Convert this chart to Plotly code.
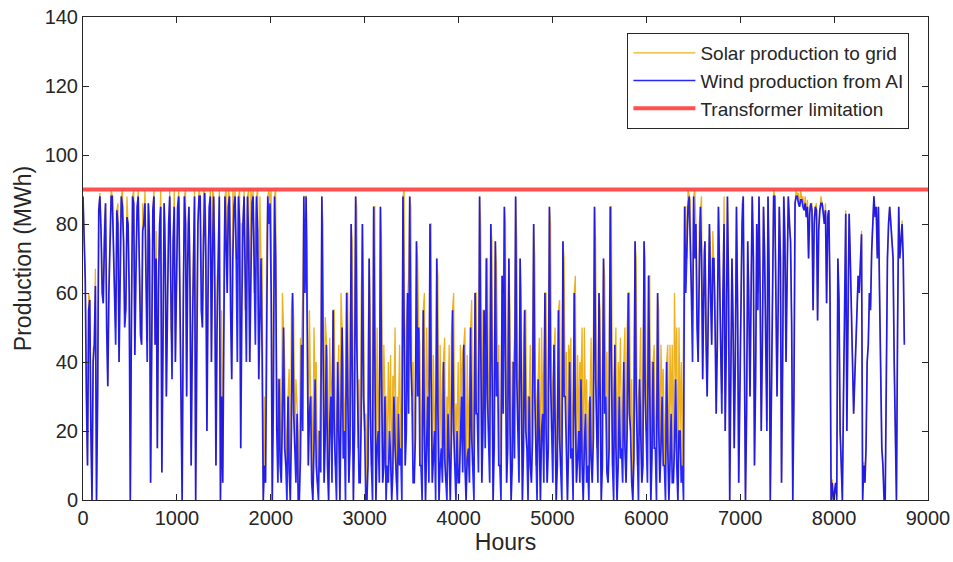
import numpy as np
import plotly.graph_objects as go

# Wind production, two readings per day (00:00 and 12:00)
wind = [
    88, 70, 64, 30, 10, 55, 58, 20, 0, 40, 45, 62, 0, 30, 84, 88, 78, 60, 57, 75,
    86, 50, 33, 60, 80, 88, 88, 70, 62, 45, 84, 80, 40, 72, 88, 85, 75, 50, 55, 82,
    80, 60, 0, 55, 88, 86, 42, 65, 85, 88, 70, 48, 45, 78, 80, 86, 62, 40, 86, 75,
    5, 50, 84, 88, 45, 70, 15, 60, 80, 85, 8, 45, 86, 70, 30, 55, 80, 88, 50, 35,
    75, 85, 40, 62, 85, 88, 60, 30, 0, 55, 88, 80, 30, 70, 85, 60, 10, 45, 70, 88,
    0, 50, 80, 88, 88, 55, 50, 75, 89, 70, 20, 60, 85, 88, 40, 72, 88, 60, 10, 50,
    70, 88, 0, 30, 5, 50, 88, 75, 60, 85, 88, 55, 35, 70, 85, 88, 70, 40, 88, 80,
    15, 55, 80, 88, 55, 40, 88, 75, 40, 65, 86, 88, 60, 45, 88, 78, 35, 60, 70, 40,
    0, 10, 5, 45, 88, 80, 86, 60, 0, 30, 88, 70, 20, 5, 35, 10, 5, 25, 50, 15,
    10, 0, 30, 8, 0, 20, 60, 25, 15, 5, 25, 0, 0, 12, 45, 20, 88, 60, 88, 40,
    10, 25, 30, 5, 0, 15, 35, 10, 5, 0, 20, 8, 88, 40, 5, 18, 45, 10, 0, 22,
    30, 5, 55, 20, 10, 0, 40, 15, 0, 25, 50, 12, 20, 0, 60, 30, 5, 15, 80, 35,
    0, 20, 88, 45, 15, 5, 5, 25, 80, 30, 20, 0, 0, 10, 70, 25, 10, 0, 85, 40,
    0, 15, 20, 5, 85, 35, 5, 10, 30, 0, 10, 5, 20, 12, 0, 8, 30, 15, 5, 0,
    25, 10, 15, 0, 88, 45, 10, 20, 60, 25, 88, 40, 30, 5, 5, 18, 75, 30, 50, 10,
    10, 0, 55, 20, 0, 15, 30, 5, 80, 35, 5, 12, 20, 0, 70, 25, 0, 10, 15, 5,
    40, 12, 5, 0, 25, 10, 0, 18, 55, 20, 10, 0, 20, 5, 5, 15, 30, 8, 45, 10,
    0, 12, 15, 5, 50, 18, 10, 0, 60, 25, 25, 8, 88, 40, 5, 20, 55, 15, 70, 30,
    20, 5, 80, 35, 0, 15, 75, 30, 40, 10, 10, 0, 65, 25, 85, 40, 5, 15, 70, 20,
    0, 10, 40, 12, 88, 35, 20, 5, 70, 25, 0, 15, 55, 20, 15, 0, 30, 10, 5, 18,
    80, 30, 10, 0, 35, 12, 0, 20, 25, 5, 60, 20, 5, 15, 85, 35, 20, 5, 45, 15,
    0, 10, 55, 18, 10, 0, 75, 30, 30, 8, 0, 15, 40, 12, 15, 0, 60, 25, 5, 12,
    20, 5, 35, 10, 0, 15, 25, 5, 10, 0, 30, 12, 5, 18, 85, 35, 15, 5, 60, 20,
    0, 10, 70, 25, 30, 8, 5, 15, 85, 40, 10, 0, 45, 15, 0, 10, 30, 12, 15, 5,
    40, 15, 5, 20, 60, 25, 20, 5, 0, 12, 75, 30, 10, 0, 35, 15, 5, 10, 75, 30,
    20, 5, 65, 25, 0, 12, 40, 15, 15, 0, 60, 20, 5, 15, 30, 10, 10, 0, 40, 15,
    0, 10, 25, 5, 5, 15, 35, 10, 0, 20, 20, 5, 10, 0, 85, 60, 70, 85, 88, 75,
    60, 40, 88, 70, 80, 50, 40, 65, 85, 70, 35, 60, 75, 45, 30, 55, 80, 60, 45, 70,
    70, 50, 25, 45, 85, 65, 40, 25, 60, 80, 20, 45, 88, 60, 0, 35, 70, 50, 15, 40,
    85, 55, 5, 30, 60, 80, 88, 50, 0, 25, 75, 55, 30, 60, 88, 70, 10, 35, 80, 55,
    88, 60, 20, 45, 85, 70, 40, 20, 88, 65, 0, 30, 75, 88, 88, 60, 30, 55, 85, 70,
    5, 40, 88, 75, 40, 65, 88, 80, 75, 50, 0, 30, 86, 88, 88, 86, 85, 87, 87, 85,
    84, 86, 82, 85, 70, 83, 86, 84, 55, 80, 85, 84, 52, 78, 84, 86, 86, 83, 80, 84,
    57, 82, 84, 60, 0, 5, 0, 2, 5, 0, 70, 58, 20, 10, 0, 30, 50, 83, 20, 60,
    83, 70, 55, 40, 25, 35, 45, 55, 65, 60, 70, 77, 0, 10, 5, 15, 40, 45, 60, 55,
    72, 80, 88, 82, 85, 70, 85, 60, 30, 15, 10, 0, 0, 40, 70, 80, 85, 80, 75, 70,
    40, 20, 0, 50, 85, 70, 75, 80, 70, 45,
]

# Solar sent to grid on top of wind, one midday reading per day
solar = [
    4, 3, 5, 3, 4, 5, 3, 1, 5, 6,
    5, 4, 2, 6, 5, 6, 5, 5, 4, 6,
    6, 5, 4, 7, 2, 6, 8, 4, 6, 7,
    7, 2, 8, 6, 5, 8, 9, 7, 2, 8,
    5, 8, 2, 9, 8, 10, 10, 9, 10, 2,
    10, 2, 12, 15, 12, 14, 2, 18, 15, 14,
    2, 25, 20, 15, 5, 20, 20, 2, 30, 10,
    25, 2, 35, 15, 25, 2, 35, 12, 28, 30,
    20, 30, 10, 30, 25, 20, 30, 25, 35, 25,
    25, 30, 35, 28, 30, 20, 35, 40, 28, 35,
    30, 25, 35, 30, 20, 30, 40, 35, 30, 25,
    30, 35, 25, 30, 35, 28, 30, 30, 25, 40,
    30, 40, 30, 35, 30, 25, 35, 30, 25, 45,
    35, 30, 40, 35, 30, 35, 30, 28, 35, 30,
    35, 30, 45, 30, 40, 45, 35, 30, 40, 35,
    30, 40, 35, 30, 45, 30, 28, 40, 35, 30,
    35, 30, 35, 30, 40, 28, 35, 30, 35, 40,
    30, 35, 40, 30, 35, 30, 40, 35, 30, 40,
    35, 40, 30, 38, 35, 30, 35, 40, 30, 35,
    30, 35, 40, 30, 35, 30, 35, 30, 35, 30,
    40, 30, 35, 30, 35, 40, 30, 45, 30, 35,
    30, 40, 28, 40, 35, 30, 35, 30, 40, 30,
    35, 40, 35, 30, 28, 35, 30, 40, 30, 35,
    30, 40, 35, 30, 45, 30, 35, 30, 35, 28,
    35, 30, 35, 30, 28, 40, 30, 35, 28, 40,
    30, 40, 28, 30, 25, 35, 30, 28, 25, 30,
    35, 40, 45, 40, 30, 35, 50, 25, 5, 12,
    15, 20, 12, 15, 18, 12, 15, 10, 12, 8,
    8, 10, 8, 6, 8, 6, 7, 6, 5, 6,
    5, 5, 6, 4, 5, 5, 4, 5, 4, 5,
    4, 3, 4, 3, 4, 3, 2, 3, 3, 3,
    3, 3, 3, 3, 2, 2, 2, 3, 3, 3,
    2, 2, 2, 2, 2, 2, 2, 2, 2, 2,
    1, 1, 1, 1, 1, 1, 1, 1, 1, 1,
    1, 1, 1, 1, 1, 1, 1, 1, 1, 1,
    1, 1, 1, 1, 1, 1, 1, 1, 1, 1,
    1, 1, 1, 1, 1,
]

transformer_limit = 90
x_range = [0, 9000]
y_range = [0, 140]
x_ticks = [0, 1000, 2000, 3000, 4000, 5000, 6000, 7000, 8000, 9000]
y_ticks = [0, 20, 40, 60, 80, 100, 120, 140]

wind_hours = np.arange(len(wind)) * 12
solar_hours = np.arange(len(solar)) * 24 + 12

FONT = "Liberation Sans, Arial, Helvetica, sans-serif"
AX = "#262626"
ORANGE = "#EDB120"
BLUE = "rgba(0,0,255,0.85)"
RED = "rgba(255,60,60,0.9)"

fig = go.Figure()
# base of the stack (hidden), so the solar line sits on top of wind
fig.add_trace(go.Scatter(x=wind_hours, y=wind, mode="lines", stackgroup="grid",
                         fill="none", line=dict(width=0, color="rgba(0,0,0,0)"),
                         showlegend=False, hoverinfo="skip"))
fig.add_trace(go.Scatter(x=solar_hours, y=solar, mode="lines", stackgroup="grid",
                         stackgaps="infer zero", fill="none",
                         showlegend=False, legendgroup="solar",
                         line=dict(color=ORANGE, width=1.3)))
fig.add_trace(go.Scatter(x=wind_hours, y=wind, mode="lines",
                         name="Wind production from AI", legendrank=2,
                         line=dict(color=BLUE, width=1.7)))
fig.add_trace(go.Scatter(x=x_range, y=[transformer_limit] * 2, mode="lines",
                         name="Transformer limitation", legendrank=3,
                         line=dict(color=RED, width=4)))
# legend entry for the solar line
fig.add_trace(go.Scatter(x=[None], y=[None], mode="lines",
                         name="Solar production to grid", legendrank=1,
                         legendgroup="solar", line=dict(color=ORANGE, width=1.3)))

axis_common = dict(showgrid=False, zeroline=False, showline=True, linecolor=AX,
                   linewidth=1, mirror="allticks", ticks="inside", ticklen=6,
                   tickcolor=AX, automargin=False,
                   tickfont=dict(family=FONT, size=20, color=AX))

fig.update_layout(
    width=953, height=562,
    margin=dict(l=83, r=25, t=17, b=62, autoexpand=False),
    paper_bgcolor="white", plot_bgcolor="white",
    font=dict(family=FONT, color=AX),
    xaxis=dict(range=x_range, tickvals=x_ticks,
               title=dict(text="Hours", font=dict(family=FONT, size=23, color=AX),
                          standoff=4),
               **axis_common),
    yaxis=dict(range=y_range, tickvals=y_ticks,
               title=dict(text="Production (MWh)", font=dict(family=FONT, size=23, color=AX),
                          standoff=6),
               **axis_common),
    legend=dict(x=0.978, y=0.967, xanchor="right", yanchor="top",
                bgcolor="white", bordercolor=AX, borderwidth=1,
                font=dict(family=FONT, size=19, color=AX),
                tracegroupgap=0, itemwidth=62),
    showlegend=True,
)

fig.write_html("out.html")
